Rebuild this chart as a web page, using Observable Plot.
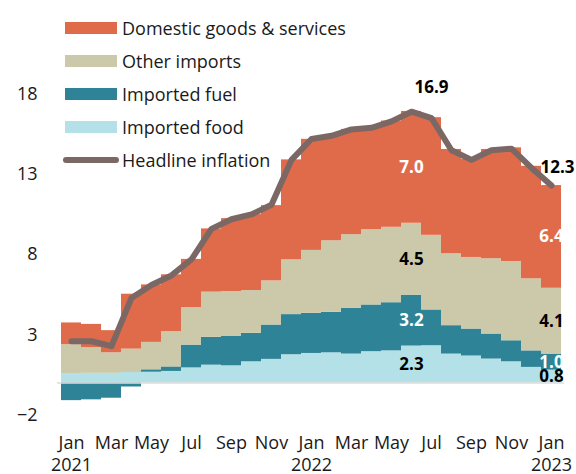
<!DOCTYPE html>
<html>
<head>
<meta charset="utf-8">
<script src="https://cdn.jsdelivr.net/npm/d3@7"></script>
<script src="https://cdn.jsdelivr.net/npm/@observablehq/plot@0.6"></script>
<style>
  html, body { margin: 0; padding: 0; background: #fff; }
  #wrap { position: relative; width: 576px; height: 474px; font-family: "Open Sans", "Noto Sans", sans-serif; }
  #legend { position: absolute; left: 65px; top: 11px; }
  .item { display: flex; align-items: center; height: 33px; font-size: 18px; color: #1a1a1a; }
  .sw { width: 52px; height: 12px; margin-right: 5px; }
  .ln { width: 56px; height: 6px; border-radius: 3px; margin-left: -2px; margin-right: 3px; }
</style>
</head>
<body>
<div id="wrap"><div id="chart"></div><div id="legend"></div></div>
<script>
const months = ["Jan 2021","Feb 2021","Mar 2021","Apr 2021","May 2021","Jun 2021","Jul 2021","Aug 2021","Sep 2021","Oct 2021","Nov 2021","Dec 2021",
  "Jan 2022","Feb 2022","Mar 2022","Apr 2022","May 2022","Jun 2022","Jul 2022","Aug 2022","Sep 2022","Oct 2022","Nov 2022","Dec 2022","Jan 2023"];
const importedFood = [0.59,0.60,0.60,0.65,0.67,0.72,0.94,1.11,1.07,1.32,1.47,1.76,1.84,1.88,1.80,1.95,2.00,2.30,2.32,1.80,1.68,1.49,1.32,0.97,0.80];
const importedFuel = [-1.10,-1.05,-0.95,-0.25,0.15,0.28,1.42,1.73,1.85,1.77,2.14,2.50,2.50,2.52,2.86,2.91,3.00,3.17,2.23,1.77,1.68,1.56,1.31,1.03,1.00];
const otherImports = [1.80,1.60,1.28,1.46,1.71,2.20,2.34,2.82,2.78,2.67,2.75,3.41,3.92,4.46,4.58,4.69,4.70,4.48,4.65,4.48,4.46,4.69,4.94,4.49,4.10];
const domestic = [1.35,1.45,1.38,3.42,3.58,3.54,3.00,3.94,4.54,4.73,4.69,6.23,6.92,6.52,6.56,6.31,6.62,6.97,7.33,6.50,6.11,6.81,7.08,7.01,6.40];
const headline = [2.6,2.6,2.3,5.3,6.1,6.7,7.7,9.6,10.2,10.5,11.1,13.9,15.2,15.4,15.8,15.9,16.3,16.9,16.5,14.5,13.9,14.5,14.6,13.4,12.3];
const seriesNames = ["Imported food","Imported fuel","Other imports","Domestic goods & services"];
const seriesColors = ["#b4e0e7","#2e8396","#cbc9a9","#e06b4b"];
const labelColors = ["#000","#fff","#000","#fff"];
const legendOrder = ["Domestic goods & services","Other imports","Imported fuel","Imported food"];
const headlineName = "Headline inflation";
const headlineColor = "#7b6865";
const yTicks = [-2, 3, 8, 13, 18];
const labelledMonths = ["Jun 2022", "Jan 2023"];
const valueLabelMonths = ["Jun 2022", "Jan 2023"];

const seriesValues = [importedFood, importedFuel, otherImports, domestic];
const rows = [];
seriesNames.forEach((s, k) => seriesValues[k].forEach((v, i) => rows.push({month: months[i], series: s, value: v})));

// segment labels at midpoints of stacked segments
const segLabels = [];
valueLabelMonths.forEach(m => {
  const i = months.indexOf(m);
  let pos = 0, neg = 0;
  seriesValues.forEach((arr, k) => {
    const v = arr[i];
    let lo, hi;
    if (v >= 0) { lo = pos; hi = pos + v; pos = hi; } else { hi = neg; lo = neg + v; neg = lo; }
    segLabels.push({month: m, y: (lo + hi) / 2, text: v.toFixed(1), color: labelColors[k]});
  });
});
const lineData = months.map((m, i) => ({month: m, v: headline[i]}));
const peakIdx = months.indexOf(labelledMonths[0]);
const lastIdx = months.indexOf(labelledMonths[1]);

const monthShort = m => m.split(" ")[0];
const chart = Plot.plot({
  width: 576,
  height: 474,
  marginLeft: 57,
  marginRight: 12,
  marginTop: 37.4,
  marginBottom: 51.4,
  style: {fontFamily: "'Open Sans', 'Noto Sans', sans-serif", fontSize: "18px", color: "#1a1a1a", background: "#fff"},
  x: {type: "band", domain: months, padding: 0, label: null},
  y: {domain: [-2.5, 21.5], label: null},
  color: {domain: seriesNames, range: seriesColors},
  marks: [
    Plot.barY(rows, {x: "month", y: "value", fill: "series", order: seriesNames}),
    Plot.ruleY([0], {stroke: "#dcdcdc", strokeWidth: 1.5}),
    Plot.line(lineData, {x: "month", y: "v", stroke: headlineColor, strokeWidth: 6, strokeLinejoin: "round", strokeLinecap: "round"}),
    Plot.text(segLabels, {x: "month", y: "y", text: "text", fill: "color", fontWeight: "bold", fontSize: 17}),
    Plot.text([lineData[peakIdx]], {x: "month", y: "v", text: d => d.v.toFixed(1), fontWeight: "bold", fontSize: 17, dx: 20, dy: -24, fill: "#000"}),
    Plot.text([lineData[lastIdx]], {x: "month", y: "v", text: d => d.v.toFixed(1), fontWeight: "bold", fontSize: 17, dx: -11, dy: -18, textAnchor: "start", fill: "#000"}),
    Plot.axisY(yTicks, {tickSize: 0, tickPadding: 20, fontSize: 18, label: null}),
    Plot.axisX(months.filter((m, i) => i % 2 === 0), {
      tickSize: 0, tickPadding: 9.5, fontSize: 18, label: null, lineHeight: 1.25,
      tickFormat: m => monthShort(m) === "Jan" ? "Jan\n" + m.split(" ")[1] : monthShort(m)
    })
  ]
});
document.getElementById("chart").appendChild(chart);

const legend = document.getElementById("legend");
legendOrder.forEach(name => {
  const it = document.createElement("div"); it.className = "item";
  const sw = document.createElement("div"); sw.className = "sw";
  sw.style.background = seriesColors[seriesNames.indexOf(name)];
  const tx = document.createElement("span"); tx.textContent = name;
  it.appendChild(sw); it.appendChild(tx); legend.appendChild(it);
});
{
  const it = document.createElement("div"); it.className = "item";
  const sw = document.createElement("div"); sw.className = "ln"; sw.style.background = headlineColor;
  const tx = document.createElement("span"); tx.textContent = headlineName;
  it.appendChild(sw); it.appendChild(tx); legend.appendChild(it);
}
</script>
</body>
</html>
